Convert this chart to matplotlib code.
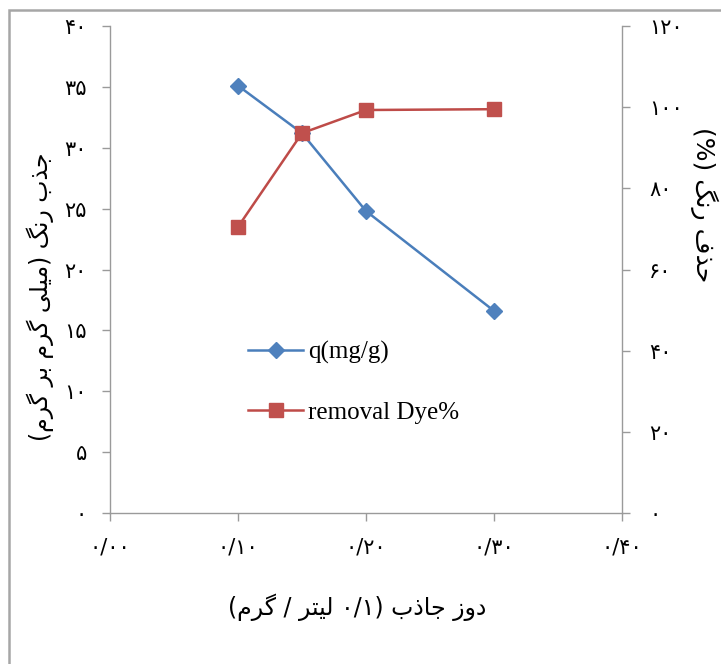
import re
import matplotlib
matplotlib.use("Agg")
import matplotlib.pyplot as plt
from matplotlib.patches import Rectangle

# data
dose = [0.10, 0.15, 0.20, 0.30]
q_mg_g = [35.1, 31.2, 24.8, 16.6]
removal_pct = [70.5, 93.6, 99.3, 99.5]

x_ticks = [0.0, 0.1, 0.2, 0.3, 0.4]
left_ticks = [0, 5, 10, 15, 20, 25, 30, 35, 40]
right_ticks = [0, 20, 40, 60, 80, 100, 120]

x_title = "دوز جاذب (۰/۱ لیتر / گرم)"
left_title = "جذب رنگ (میلی گرم بر گرم)"
right_title = "حذف رنگ (%)"
series_names = ["q(mg/g)", "removal Dye%"]

# minimal arabic shaping (matplotlib has no shaping/bidi)
FORMS = {
    "ا": ("\uFE8D", "\uFE8E"), "د": ("\uFEA9", "\uFEAA"), "ذ": ("\uFEAB", "\uFEAC"),
    "ر": ("\uFEAD", "\uFEAE"), "ز": ("\uFEAF", "\uFEB0"), "و": ("\uFEED", "\uFEEE"),
    "ب": ("\uFE8F", "\uFE90", "\uFE91", "\uFE92"), "ت": ("\uFE95", "\uFE96", "\uFE97", "\uFE98"),
    "ج": ("\uFE9D", "\uFE9E", "\uFE9F", "\uFEA0"), "ح": ("\uFEA1", "\uFEA2", "\uFEA3", "\uFEA4"),
    "ف": ("\uFED1", "\uFED2", "\uFED3", "\uFED4"), "ل": ("\uFEDD", "\uFEDE", "\uFEDF", "\uFEE0"),
    "م": ("\uFEE1", "\uFEE2", "\uFEE3", "\uFEE4"), "ن": ("\uFEE5", "\uFEE6", "\uFEE7", "\uFEE8"),
    "ی": ("\uFBFC", "\uFBFD", "\uFBFE", "\uFBFF"), "گ": ("\uFB92", "\uFB93", "\uFB94", "\uFB95"),
}
MIRROR = str.maketrans("()", ")(")
NUM = r"[۰-۹0-9]+(?:/[۰-۹0-9]+)*"


def shape(s):
    out = []
    for i, ch in enumerate(s):
        if ch not in FORMS:
            out.append(ch)
            continue
        f = FORMS[ch]
        prev = i > 0 and s[i - 1] in FORMS and len(FORMS[s[i - 1]]) == 4
        nxt = len(f) == 4 and i + 1 < len(s) and s[i + 1] in FORMS
        if prev and nxt:
            out.append(f[3])
        elif prev:
            out.append(f[1])
        elif nxt:
            out.append(f[2])
        else:
            out.append(f[0])
    return "".join(out)


def farsi(s):
    parts = re.split("(" + NUM + ")", shape(s))
    res = []
    for p in reversed(parts):
        if re.fullmatch(NUM, p):
            res.append(p)
        else:
            res.append(p[::-1].translate(MIRROR))
    return "".join(res)


def fa_num(v, fmt):
    return (fmt % v).translate(str.maketrans("0123456789.", "۰۱۲۳۴۵۶۷۸۹/"))


plt.rcParams["font.family"] = ["DejaVu Sans"]

fig = plt.figure(figsize=(7.21, 6.64), dpi=100)
ax = fig.add_axes([110 / 721, 151 / 664, 512 / 721, 487 / 664])
ax2 = ax.twinx()

axis_gray = "#9A9A9A"
blue = "#4A7EBB"
red = "#BE4B48"

l1, = ax.plot(dose, q_mg_g, color=blue, lw=1.8, marker="D", markersize=8.5,
              markerfacecolor="#4F81BD", markeredgecolor="#4F81BD", label=series_names[0])
l2, = ax2.plot(dose, removal_pct, color=red, lw=1.8, marker="s", markersize=10.5,
               markerfacecolor="#C0504D", markeredgecolor="#C0504D", label=series_names[1])

ax.set_xlim(0, 0.4)
ax.set_ylim(0, 40)
ax2.set_ylim(0, 120)
ax.set_xticks(x_ticks)
ax.set_xticklabels([fa_num(v, "%.2f") for v in x_ticks])
ax.set_yticks(left_ticks)
ax.set_yticklabels([fa_num(v, "%d") for v in left_ticks])
ax2.set_yticks(right_ticks)
ax2.set_yticklabels([fa_num(v, "%d") for v in right_ticks])

for a in (ax, ax2):
    a.spines["top"].set_visible(False)
    for side in ("left", "right", "bottom"):
        a.spines[side].set_color(axis_gray)
        a.spines[side].set_linewidth(1.0)
    a.tick_params(colors=axis_gray, labelcolor="black", labelsize=15, length=5.5, width=1.0)
ax.spines["right"].set_visible(False)
ax2.spines["left"].set_visible(False)
ax2.spines["bottom"].set_visible(False)
ax.tick_params(axis="y", pad=11)
ax.tick_params(axis="x", pad=12)
ax2.tick_params(axis="y", pad=14)

fig.text(40 / 721, 1 - 297 / 664, farsi(left_title), rotation=90, ha="center", va="center", fontsize=17)
fig.text(704 / 721, 1 - 205 / 664, farsi(right_title), rotation=-90, ha="center", va="center", fontsize=18)
fig.text(357 / 721, 1 - 607 / 664, farsi(x_title), ha="center", va="center", fontsize=17)

ax2.legend([l1, l2], series_names, loc="upper left", bbox_to_anchor=(0.27, 0.353),
           frameon=False, borderpad=0, borderaxespad=0, handlelength=2.2,
           handletextpad=0.2, labelspacing=1.5,
           prop={"family": "Liberation Serif", "size": 18})

fig.patches.append(Rectangle((9 / 721, -0.2), 1.2, 1.2 - 10 / 664, transform=fig.transFigure,
                             fill=False, edgecolor="#A6A6A6", lw=1.8, clip_on=False))

fig.savefig("out.png", dpi=100)
